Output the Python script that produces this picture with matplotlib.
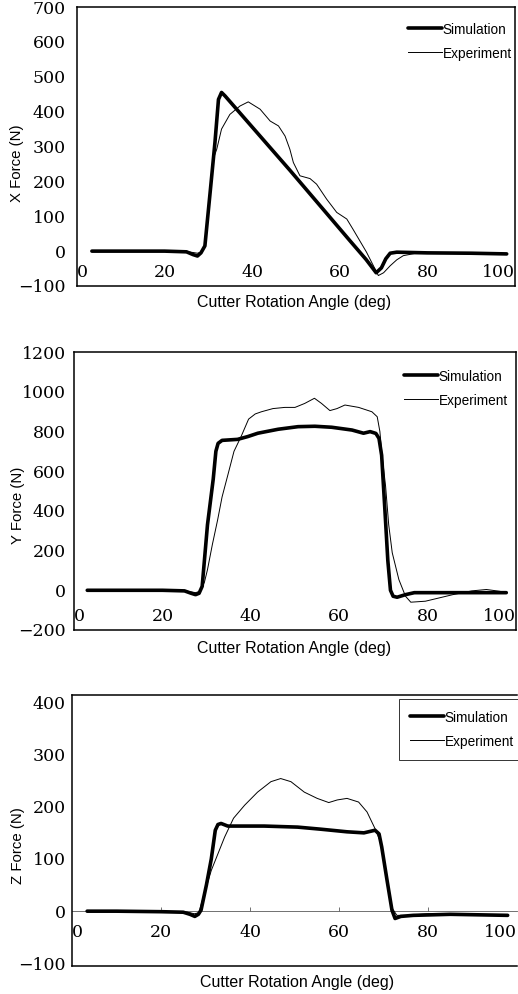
import matplotlib
matplotlib.use('Agg')
import matplotlib.pyplot as plt

plt.rcParams['font.family'] = ['Liberation Sans', 'DejaVu Sans']

# ---------------- data ----------------
x_ticks = [0, 20, 40, 60, 80, 100]
x_tick_labels = ['0', '20', '40', '60', '80', '100']
x_label = 'Cutter Rotation Angle (deg)'
series_names = ['Simulation', 'Experiment']

# Panel 1: X force
x_sim1 = [3.4, 10, 20, 25, 26.5, 27.5, 28.3, 29.2, 30.4, 31.5, 32.3, 33.0, 33.8, 48.6, 62.3, 66, 68.3, 69.5, 70.5, 71.5, 73, 80, 90, 98.1]
y_sim1 = [0, 0, 0, -2, -10, -14, -5, 15, 169, 312, 435, 455, 445, 232, 30, -24, -62, -48, -22, -6, -3, -5, -6, -8]
x_exp1 = [3.4, 20, 25, 26.5, 27.5, 28.5, 29.2, 30.4, 31.1, 31.9, 33.0, 34.9, 37.2, 39.1, 41.8, 44.1, 46, 47.5, 48.6, 49.4,
          50.9, 53.2, 54.7, 57, 59.3, 61.6, 63, 66.1, 68.8, 70, 71.5, 73, 74.5, 77, 85, 98.1]
y_exp1 = [0, 0, -1, -4, -6, -2, 15, 160, 264, 292, 350, 392, 416, 428, 407, 373, 359, 330, 292, 254,
          216, 208, 192, 149, 111, 92, 63, -3, -70, -62, -42, -25, -13, -7, -7, -8]
y_ticks1 = [-100, 0, 100, 200, 300, 400, 500, 600, 700]

# Panel 2: Y force
x_sim2 = [3, 10, 20, 25, 26.5, 27.5, 28.3, 29, 30.2, 31.5, 32.1, 32.6, 33.5, 37, 39.3, 41.6, 46.2, 50.7, 54.5, 58.3,
          62.9, 65.5, 67, 68.3, 69.0, 69.6, 70.3, 71.0, 71.6, 72.2, 73.1, 75, 77, 85, 97.8]
y_sim2 = [0, 0, 0, -3, -15, -22, -15, 20, 330, 560, 700, 740, 755, 760, 774, 791, 811, 824, 826, 821,
          807, 791, 799, 790, 765, 680, 420, 150, 0, -30, -35, -22, -12, -12, -12]
x_exp2 = [3, 20, 25, 26.5, 27.5, 28.5, 29.5, 30.2, 31.3, 32.5, 33.5, 34.8, 36.2, 37.8, 39.5, 41, 42.4, 45, 47.7, 50,
          52.2, 54.4, 56, 57.9, 59.5, 61.3, 64.4, 67.4, 68.6, 69.2, 69.7, 70.5, 71.2, 72, 73.5, 75, 76.2, 79.5, 85.7, 90,
          93.3, 96.3, 97.8]
y_exp2 = [0, 0, -2, -8, -12, -5, 40, 104, 230, 355, 470, 580, 700, 774, 862, 888, 899, 915, 921, 921,
          941, 967, 941, 905, 915, 933, 921, 899, 874, 800, 680, 523, 330, 189, 54, -30, -60, -55, -22, -3,
          4, -5, -12]
y_ticks2 = [-200, 0, 200, 400, 600, 800, 1000, 1200]

# Panel 3: Z force
x_sim3 = [3.4, 10, 20, 25, 26.5, 27.6, 28.4, 29, 30.2, 31.3, 32.2, 32.8, 33.5, 35, 43.2, 50.7, 55.9, 61.8, 65.6, 68.1,
          69.0, 69.6, 70.8, 71.9, 72.6, 73.9, 76.7, 85, 97.9]
y_sim3 = [0, 0, -1, -2, -6, -10, -6, 2, 50, 100, 155, 166, 168, 163, 163, 161, 157, 152, 150, 155,
          148, 123, 59, 2, -14, -10, -8, -6, -8]
x_exp3 = [3.4, 20, 26, 27.5, 28.5, 29.5, 31.3, 34.3, 36.3, 38.8, 41.7, 44.7, 46.9, 49.2, 52.2, 55.1, 57.7, 59.6, 61.8, 64.4,
          66.3, 68.1, 69.2, 70, 71, 72, 73, 75, 80, 90, 97.9]
y_exp3 = [0, 0, -2, -5, -3, 27, 78, 142, 178, 203, 228, 248, 254, 248, 228, 216, 208, 213, 216, 209,
          190, 158, 135, 100, 45, 5, -8, -8, -5, -6, -8]
y_ticks3 = [-100, 0, 100, 200, 300, 400]

# ---------------- layout ----------------
W, H = 518, 994
fig = plt.figure(figsize=(W / 100, H / 100), dpi=100)
PX = 72 / 100  # points per pixel


def rect(l, r, t, b):
    return [l / W, 1 - b / H, (r - l) / W, (b - t) / H]


panels = [
    dict(box=(77, 515, 7, 286), ylim=(-100, 700), yticks=y_ticks1, sim=(x_sim1, y_sim1), exp=(x_exp1, y_exp1),
         ylabel='X Force (N)', ylab_xy=(17, 163), xlab_xy=(294, 303), leg_xy=(397, 11), frame=False,
         ypad=8.0, xpad_px=-22, zero_line=False, right_spine=True),
    dict(box=(74, 516, 352, 630), ylim=(-200, 1200), yticks=y_ticks2, sim=(x_sim2, y_sim2), exp=(x_exp2, y_exp2),
         ylabel='Y Force (N)', ylab_xy=(18, 505), xlab_xy=(294, 649), leg_xy=(393, 358), frame=False,
         ypad=6.0, xpad_px=-22, zero_line=False, right_spine=True),
    dict(box=(72, 517, 695, 966), ylim=(-105, 414), yticks=y_ticks3, sim=(x_sim3, y_sim3), exp=(x_exp3, y_exp3),
         ylabel='Z Force (N)', ylab_xy=(18, 846), xlab_xy=(297, 983), leg_xy=(399, 699), frame=True,
         ypad=4.5, xpad_px=-42, zero_line=True, right_spine=False),
]

for p in panels:
    ax = fig.add_axes(rect(*p['box']))
    ax.plot(p['sim'][0], p['sim'][1], color='black', lw=2.6, solid_joinstyle='round',
            solid_capstyle='round', label=series_names[0], zorder=3)
    ax.plot(p['exp'][0], p['exp'][1], color='black', lw=0.7, label=series_names[1], zorder=2)
    ax.set_xlim(0, 100)
    ax.set_ylim(*p['ylim'])
    for s in ax.spines.values():
        s.set_linewidth(1.1)
    ax.spines['right'].set_visible(p['right_spine'])

    ax.set_yticks(p['yticks'])
    ax.tick_params(axis='y', length=0, pad=p['ypad'], labelsize=12.5, labelfontfamily='DejaVu Serif')

    ax.set_xticks(x_ticks, labels=x_tick_labels)
    ax.tick_params(axis='x', length=0, pad=p['xpad_px'] * PX, labelsize=12.5, labelfontfamily='DejaVu Serif')
    labs = ax.get_xticklabels()
    labs[0].set_ha('left')
    labs[-1].set_ha('right')

    if p['zero_line']:
        ylo, yhi = p['ylim']
        sec = ax.secondary_xaxis((0 - ylo) / (yhi - ylo))
        sec.set_xticks(x_ticks[1:-1])
        sec.spines['bottom'].set_linewidth(0.6)
        sec.spines['bottom'].set_color('0.35')
        sec.tick_params(direction='in', length=3, width=0.6, color='0.35', labelbottom=False)

    ax.set_ylabel(p['ylabel'], fontsize=10.8)
    ax.yaxis.set_label_coords(p['ylab_xy'][0] / W, 1 - p['ylab_xy'][1] / H, transform=fig.transFigure)
    ax.yaxis.label.set_va('center')
    ax.set_xlabel(x_label, fontsize=11.5)
    ax.xaxis.set_label_coords(p['xlab_xy'][0] / W, 1 - p['xlab_xy'][1] / H, transform=fig.transFigure)
    ax.xaxis.label.set_va('center')

    leg = ax.legend(loc='upper left', bbox_to_anchor=(p['leg_xy'][0] / W, 1 - p['leg_xy'][1] / H),
                    bbox_transform=fig.transFigure, borderaxespad=0, borderpad=0.8,
                    frameon=p['frame'], fancybox=False, fontsize=9.8, handlelength=2.5,
                    handletextpad=0.05, handleheight=1.3, labelspacing=0.65)
    if p['frame']:
        leg.get_frame().set_edgecolor('black')
        leg.get_frame().set_linewidth(0.7)

fig.savefig('out.png', dpi=100)
